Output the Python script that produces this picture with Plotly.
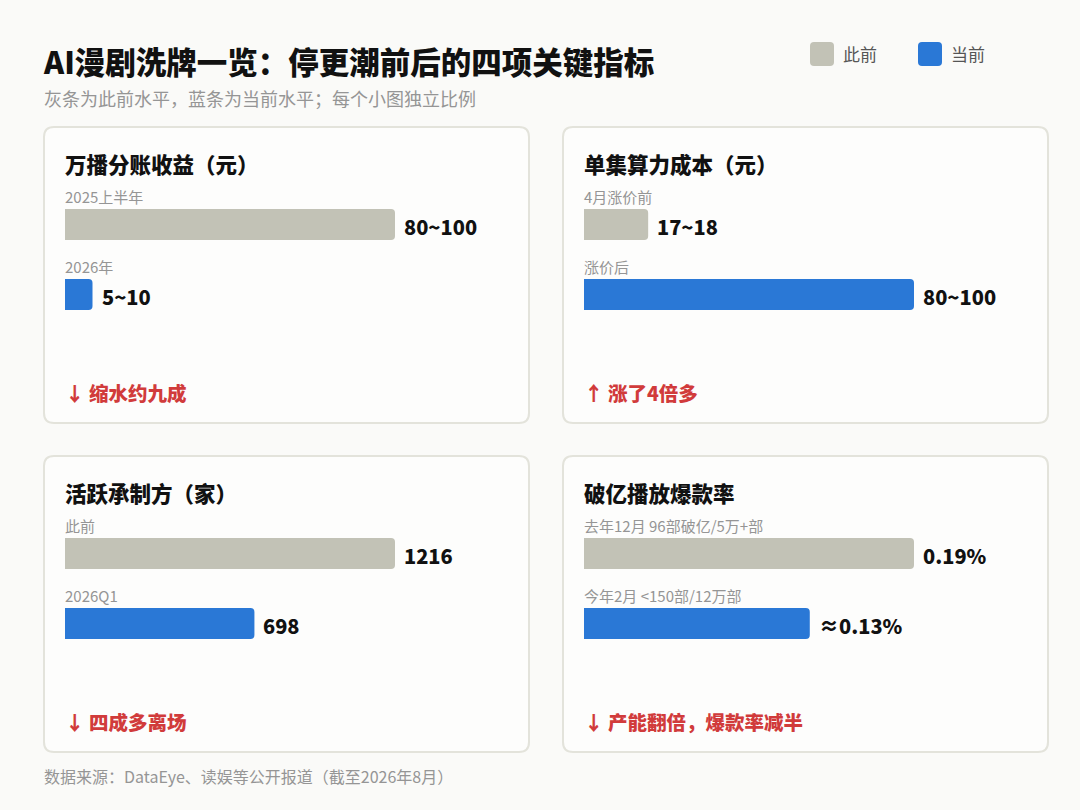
import plotly.graph_objects as go

# ---------------- data ----------------
panel_titles = ["万播分账收益（元）", "单集算力成本（元）", "活跃承制方（家）", "破亿播放爆款率"]
prev_labels = ["2025上半年", "4月涨价前", "此前", "去年12月 96部破亿/5万+部"]
curr_labels = ["2026年", "涨价后", "2026Q1", "今年2月 <150部/12万部"]
prev_values = [90, 17.5, 1216, 0.19]
curr_values = [7.5, 90, 698, 0.13]
prev_texts = ["80~100", "17~18", "1216", "0.19%"]
curr_texts = ["5~10", "80~100", "698", "≈0.13%"]
notes = ["↓ 缩水约九成", "↑ 涨了4倍多", "↓ 四成多离场", "↓ 产能翻倍，爆款率减半"]
legend_names = ["此前", "当前"]

title = "AI漫剧洗牌一览：停更潮前后的四项关键指标"
subtitle = "灰条为此前水平，蓝条为当前水平；每个小图独立比例"
source = "数据来源：DataEye、读娱等公开报道（截至2026年8月）"

# ---------------- style ----------------
W, H = 1080, 810
FONT = "Noto Sans CJK SC"
BG = "#FAFAF8"
PANEL_BG = "#FDFDFC"
PANEL_BORDER = "#E3E3DB"
GRAY = "#C2C2B6"
BLUE = "#2A78D6"
RED = "#D13B3B"
DARK = "#111111"
MUTED = "#959595"

def px(x):
    return x / W

def py(y):
    return 1 - y / H

panel_origins = [(44, 127), (563, 127), (44, 456), (563, 456)]
panel_w, panel_h = 485, 296
pad_x = 21
bar_max_px = 330      # pixel length of the longest bar in each panel
axis_px = 445         # pixel width of each panel's x axis
pitch = 70            # pixels between bar centres
bar_thick = 31

fig = go.Figure()
shapes = []
annotations = []


def rounded_rect(x0, y0, x1, y1, r):
    rx, ry = r / W, r / H
    X0, X1 = px(x0), px(x1)
    Y0, Y1 = py(y0), py(y1)
    return (f"M {X0+rx} {Y0} L {X1-rx} {Y0} Q {X1} {Y0} {X1} {Y0-ry} "
            f"L {X1} {Y1+ry} Q {X1} {Y1} {X1-rx} {Y1} L {X0+rx} {Y1} "
            f"Q {X0} {Y1} {X0} {Y1+ry} L {X0} {Y0-ry} Q {X0} {Y0} {X0+rx} {Y0} Z")


for i, (ox, oy) in enumerate(panel_origins):
    shapes.append(dict(type="path", xref="paper", yref="paper",
                       path=rounded_rect(ox, oy, ox + panel_w, oy + panel_h, 10),
                       fillcolor=PANEL_BG, line=dict(color=PANEL_BORDER, width=2),
                       layer="below"))
    n = "" if i == 0 else str(i + 1)
    xa, ya = "x" + n, "y" + n
    x_left = ox + pad_x
    vmax = max(prev_values[i], curr_values[i])
    rng_max = vmax * axis_px / bar_max_px
    top = oy + 97.5 - pitch / 2
    bottom = top + 2 * pitch
    fig.add_trace(go.Bar(
        x=[prev_values[i], curr_values[i]], y=[0, 1], orientation="h",
        marker=dict(color=[GRAY, BLUE], line=dict(width=0)),
        width=bar_thick / pitch, xaxis=xa, yaxis=ya, showlegend=False,
        hoverinfo="skip"))
    fig.layout["xaxis" + n] = dict(domain=[px(x_left), px(x_left + axis_px)],
                                  range=[0, rng_max], visible=False, fixedrange=True,
                                  anchor=ya)
    fig.layout["yaxis" + n] = dict(domain=[py(bottom), py(top)], range=[1.5, -0.5],
                                  visible=False, fixedrange=True, anchor=xa)
    annotations.append(dict(xref="paper", yref="paper", x=px(x_left - 2), y=py(oy + 36),
                            xanchor="left", yanchor="middle", showarrow=False,
                            text=panel_titles[i],
                            font=dict(family=FONT, size=21.5, color=DARK, weight=900)))
    for j, (lab, val, txt) in enumerate([(prev_labels[i], prev_values[i], prev_texts[i]),
                                         (curr_labels[i], curr_values[i], curr_texts[i])]):
        annotations.append(dict(xref=xa, yref=ya, x=0, y=j, yshift=28, xshift=-2,
                                xanchor="left", yanchor="middle", showarrow=False,
                                text=lab, font=dict(family=FONT, size=15, color=MUTED)))
        annotations.append(dict(xref=xa, yref=ya, x=val, y=j, xshift=7, yshift=-2,
                                xanchor="left", yanchor="middle", showarrow=False,
                                text=txt, font=dict(family=FONT, size=20, color=DARK, weight=900)))
    annotations.append(dict(xref="paper", yref="paper", x=px(x_left - 2), y=py(oy + 265),
                            xanchor="left", yanchor="middle", showarrow=False,
                            text=notes[i],
                            font=dict(family=FONT, size=19.5, color=RED, weight=900)))

annotations.append(dict(xref="paper", yref="paper", x=px(41), y=py(61), xanchor="left",
                        yanchor="middle", showarrow=False, text=title,
                        font=dict(family=FONT, size=30.5, color=DARK, weight=900)))
annotations.append(dict(xref="paper", yref="paper", x=px(42), y=py(98), xanchor="left",
                        yanchor="middle", showarrow=False, text=subtitle,
                        font=dict(family=FONT, size=18, color=MUTED)))
annotations.append(dict(xref="paper", yref="paper", x=px(42), y=py(776), xanchor="left",
                        yanchor="middle", showarrow=False, text=source,
                        font=dict(family=FONT, size=16, color=MUTED)))

for k, (name, col, lx) in enumerate(zip(legend_names, [GRAY, BLUE], [810, 918])):
    shapes.append(dict(type="path", xref="paper", yref="paper",
                       path=rounded_rect(lx, 42, lx + 24, 66, 4),
                       fillcolor=col, line=dict(width=0)))
    annotations.append(dict(xref="paper", yref="paper", x=px(lx + 31), y=py(54),
                            xanchor="left", yanchor="middle", showarrow=False, text=name,
                            font=dict(family=FONT, size=17, color="#555555")))

fig.update_layout(width=W, height=H, margin=dict(l=0, r=0, t=0, b=0),
                  paper_bgcolor=BG, plot_bgcolor="rgba(0,0,0,0)",
                  shapes=shapes, annotations=annotations, barcornerradius=4,
                  font=dict(family=FONT), showlegend=False)

fig.write_html("out.html", config={"displayModeBar": False},
               post_script="document.body.style.margin='0';document.body.style.overflow='hidden';")
